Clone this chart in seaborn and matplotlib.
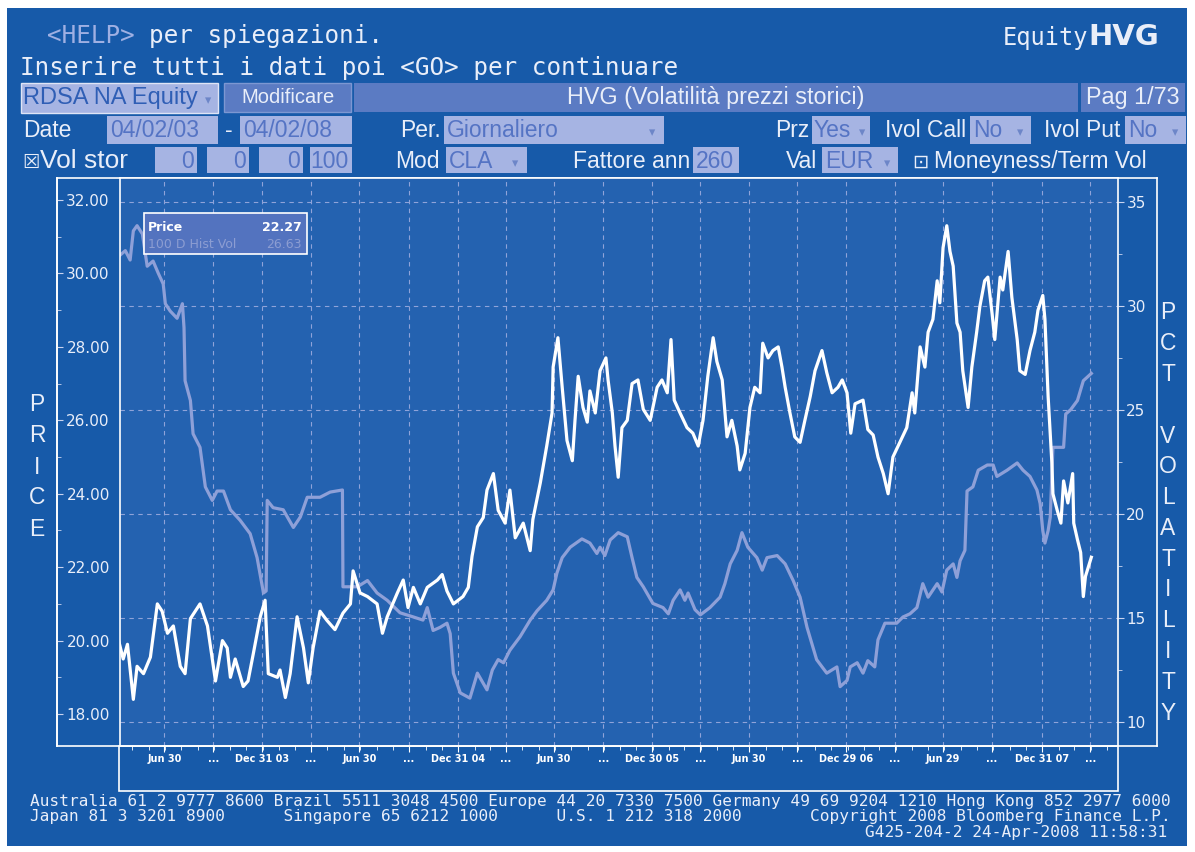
import pandas as pd
import matplotlib
matplotlib.use("Agg")
import matplotlib.pyplot as plt
import matplotlib.dates as mdates
from matplotlib.patches import Rectangle
from matplotlib.ticker import MultipleLocator, FuncFormatter
import seaborn as sns

# ---- data (days counted from the start date) ----
START = pd.Timestamp("2003-04-02")

price_days = [0, 12, 20, 31, 38, 50, 63, 76, 85, 95,
              106, 119, 128, 138, 156, 170, 185, 198, 207, 213,
              222, 237, 246, 256, 269, 278, 284, 301, 306, 316,
              325, 338, 350, 359, 368, 381, 394, 409, 424, 438,
              443, 456, 470, 488, 498, 507, 526, 537, 546, 556,
              569, 582, 601, 610, 619, 631, 649, 659, 666, 676,
              687, 694, 706, 715, 728, 737, 747, 762, 775, 780,
              794, 806, 816, 818, 827, 835, 844, 854, 859, 865,
              874, 882, 887, 897, 906, 917, 921, 929, 934, 940,
              947, 957, 966, 977, 987, 1000, 1013, 1022, 1032, 1039,
              1045, 1056, 1069, 1080, 1090, 1099, 1108, 1118, 1125, 1135,
              1144, 1153, 1163, 1168, 1178, 1187, 1196, 1206, 1211, 1221,
              1230, 1240, 1247, 1253, 1262, 1271, 1281, 1290, 1300, 1309,
              1322, 1331, 1341, 1352, 1360, 1369, 1376, 1384, 1399, 1408,
              1418, 1427, 1437, 1446, 1455, 1468, 1481, 1491, 1496, 1506,
              1515, 1521, 1530, 1538, 1543, 1549, 1556, 1562, 1568, 1575,
              1581, 1586, 1596, 1603, 1612, 1618, 1627, 1633, 1641, 1646,
              1656, 1661, 1671, 1678, 1688, 1693, 1703, 1712, 1721, 1727,
              1736, 1740, 1746, 1753, 1755, 1763, 1770, 1775, 1783, 1792,
              1794, 1801, 1807, 1812, 1816, 1827]
price_vals = [20.2, 19.5, 19.9, 18.4, 19.3, 19.1, 19.55, 21.0, 20.8, 20.2,
              20.4, 19.3, 19.1, 20.6, 21.0, 20.4, 18.9, 20.0, 19.8, 19.0,
              19.5, 18.75, 18.9, 19.65, 20.65, 21.1, 19.1, 19.0, 19.2, 18.45,
              19.1, 20.65, 19.8, 18.85, 19.8, 20.8, 20.55, 20.3, 20.75, 21.0,
              21.9, 21.3, 21.2, 21.0, 20.2, 20.65, 21.3, 21.65, 20.9, 21.45,
              21.0, 21.45, 21.65, 21.8, 21.35, 21.0, 21.2, 21.45, 22.3, 23.1,
              23.35, 24.1, 24.55, 23.55, 23.2, 24.1, 22.8, 23.2, 22.45, 23.3,
              24.3, 25.3, 26.2, 27.45, 28.25, 26.9, 25.45, 24.9, 26.0, 27.2,
              26.35, 25.95, 26.8, 26.2, 27.35, 27.7, 27.1, 26.2, 25.3, 24.45,
              25.8, 26.0, 27.0, 27.1, 26.3, 26.0, 26.9, 27.1, 26.75, 28.2,
              26.55, 26.2, 25.8, 25.65, 25.3, 26.0, 27.2, 28.25, 27.6, 27.1,
              25.55, 26.0, 25.3, 24.65, 25.1, 26.35, 26.9, 26.75, 28.1, 27.7,
              27.9, 28.0, 27.45, 26.9, 26.2, 25.55, 25.4, 26.0, 26.65, 27.35,
              27.9, 27.3, 26.75, 26.9, 27.1, 26.75, 25.65, 26.45, 26.55, 25.75,
              25.6, 25.0, 24.55, 24.0, 25.0, 25.4, 25.8, 26.75, 26.2, 28.0,
              27.45, 28.4, 28.75, 29.8, 29.2, 30.7, 31.3, 30.6, 30.2, 28.65,
              28.4, 27.35, 26.35, 27.45, 28.4, 29.1, 29.8, 29.9, 28.9, 28.2,
              29.9, 29.55, 30.6, 29.35, 28.2, 27.35, 27.25, 27.9, 28.4, 29.0,
              29.4, 28.75, 26.65, 24.85, 24.0, 23.55, 23.2, 24.35, 23.75, 24.55,
              23.2, 22.75, 22.4, 21.2, 21.75, 22.27]

vol_days = [0, 16, 25, 31, 38, 48, 57, 68, 78, 87,
            91, 100, 113, 123, 126, 128, 138, 143, 156, 166,
            179, 188, 200, 213, 231, 250, 263, 275, 280, 282,
            293, 312, 331, 344, 357, 381, 400, 423, 424, 451,
            470, 488, 507, 531, 556, 574, 582, 593, 606, 619,
            625, 631, 644, 662, 676, 694, 704, 715, 725, 737,
            756, 775, 788, 806, 818, 825, 835, 850, 872, 887,
            900, 906, 915, 925, 940, 957, 966, 975, 987, 1005,
            1024, 1034, 1043, 1056, 1065, 1071, 1084, 1094, 1112, 1131,
            1140, 1150, 1163, 1172, 1183, 1200, 1210, 1219, 1238, 1253,
            1268, 1281, 1294, 1312, 1331, 1350, 1356, 1369, 1375, 1388,
            1399, 1408, 1421, 1427, 1440, 1462, 1474, 1487, 1500, 1511,
            1521, 1538, 1547, 1556, 1568, 1575, 1581, 1590, 1594, 1605,
            1615, 1632, 1643, 1650, 1669, 1688, 1699, 1712, 1725, 1731,
            1736, 1740, 1746, 1750, 1755, 1775, 1779, 1788, 1801, 1812,
            1827]
vol_vals = [32.3, 32.65, 32.2, 33.6, 33.85, 33.45, 31.9, 32.15, 31.55, 31.05,
            30.1, 29.75, 29.4, 30.1, 28.95, 26.4, 25.45, 23.85, 23.2, 21.3,
            20.65, 21.1, 21.1, 20.2, 19.7, 19.05, 17.9, 16.2, 16.3, 20.65,
            20.3, 20.2, 19.35, 19.85, 20.8, 20.8, 21.05, 21.15, 16.5, 16.5,
            16.8, 16.2, 15.85, 15.25, 15.05, 14.9, 15.5, 14.4, 14.55, 14.75,
            14.25, 12.35, 11.4, 11.15, 12.35, 11.55, 12.5, 13.0, 12.85, 13.45,
            14.1, 14.9, 15.35, 15.85, 16.35, 17.15, 17.9, 18.4, 18.8, 18.6,
            18.1, 18.4, 18.0, 18.75, 19.1, 18.9, 17.9, 16.95, 16.5, 15.7,
            15.5, 15.2, 15.85, 16.35, 15.85, 16.2, 15.4, 15.15, 15.5, 16.0,
            16.65, 17.6, 18.25, 19.1, 18.4, 17.9, 17.3, 17.9, 18.0, 17.6,
            16.8, 16.0, 14.55, 13.0, 12.35, 12.65, 11.7, 12.0, 12.65, 12.85,
            12.35, 12.95, 12.65, 13.95, 14.75, 14.75, 15.05, 15.2, 15.5, 16.65,
            16.0, 16.65, 16.25, 17.3, 17.6, 16.95, 17.75, 18.25, 21.1, 21.3,
            22.1, 22.35, 22.35, 21.8, 22.1, 22.45, 22.1, 21.8, 21.15, 20.5,
            19.2, 18.6, 19.2, 19.85, 23.2, 23.2, 24.8, 25.0, 25.45, 26.4,
            26.75]

quarter_dates = ["2003-06-30", "2003-09-30", "2003-12-31", "2004-03-31",
                 "2004-06-30", "2004-09-30", "2004-12-31", "2005-03-31",
                 "2005-06-30", "2005-09-30", "2005-12-30", "2006-03-31",
                 "2006-06-30", "2006-09-29", "2006-12-29", "2007-03-30",
                 "2007-06-29", "2007-09-28", "2007-12-31", "2008-03-31"]
quarter_labels = ["Jun 30", "...", "Dec 31 03", "...", "Jun 30", "...",
                  "Dec 31 04", "...", "Jun 30", "...", "Dec 30 05", "...",
                  "Jun 30", "...", "Dec 29 06", "...", "Jun 29", "...",
                  "Dec 31 07", "..."]
price_ticks = [18, 20, 22, 24, 26, 28, 30, 32]
vol_ticks = [10, 15, 20, 25, 30, 35]

price_df = pd.DataFrame({"date": START + pd.to_timedelta(price_days, unit="D"),
                         "price": price_vals})
vol_df = pd.DataFrame({"date": START + pd.to_timedelta(vol_days, unit="D"),
                       "vol": vol_vals})

# ---- colours / fonts ----
W, H = 1195, 852
BG = "#175aa9"
PLOT_BG = "#2462b0"
LAV = "#a6b4e3"
BAR = "#5b7bc3"
BOXTXT = "#5574c4"
VOL_C = "#8ea0d8"
GRID_C = "#8fa3d9"
TXT_C = "#e9eef9"
MONO = "DejaVu Sans Mono"
SANS = "Liberation Sans"
SYM = "DejaVu Sans"

fig = plt.figure(figsize=(W / 100, H / 100), dpi=100)
fig.patch.set_facecolor("white")


def fx(px):
    return px / W


def fy(py):
    return 1 - py / H


def box(x0, y0, x1, y1, fc, ec="none", lw=1.0, z=1):
    fig.add_artist(Rectangle((fx(x0), fy(y1)), (x1 - x0) / W, (y1 - y0) / H,
                             transform=fig.transFigure, facecolor=fc,
                             edgecolor=ec, lw=lw, zorder=z))


def label(x, y, s, size=16.5, color=TXT_C, family=SANS, **kw):
    kw.setdefault("va", "baseline")
    fig.text(fx(x), fy(y), s, fontsize=size, color=color, family=family, **kw)


# screen background
box(7, 8, 1187, 846, BG, z=-10)

# ---- chart ----
ax_frame = fig.add_axes([fx(57), fy(746), (1157 - 57) / W, (746 - 178) / H])
ax_frame.set_facecolor("none")
ax_frame.set_xticks([])
ax_frame.set_yticks([])
for s in ax_frame.spines.values():
    s.set_color("white")
    s.set_linewidth(1.2)

ax = fig.add_axes([fx(120), fy(746), (1118 - 120) / W, (746 - 178) / H])
ax.set_facecolor(PLOT_BG)
axp = ax.twinx()

sns.lineplot(data=vol_df, x="date", y="vol", ax=ax, color=VOL_C,
             linewidth=2.3, estimator=None, sort=False)
sns.lineplot(data=price_df, x="date", y="price", ax=axp, color="white",
             linewidth=2.3, estimator=None, sort=False)

ax.set_xlim(pd.Timestamp("2003-04-08"), pd.Timestamp("2008-05-22"))
ax.set_ylim(8.85, 36.14)
axp.set_ylim(17.13, 32.6)
ax.set_xlabel("")
ax.set_ylabel("")
axp.set_ylabel("")

for s in ax.spines.values():
    s.set_color("white")
    s.set_linewidth(1.2)
for name in ["right", "top", "bottom"]:
    axp.spines[name].set_visible(False)
axp.spines["left"].set_position(("outward", 63 * 0.72))
axp.spines["left"].set_color("white")
axp.spines["left"].set_linewidth(1.2)

# right axis: volatility
ax.yaxis.tick_right()
ax.set_yticks(vol_ticks)
ax.yaxis.set_minor_locator(MultipleLocator(2.5))
ax.tick_params(axis="y", which="major", direction="out", length=4,
               color="#c9d3ef", labelsize=11, labelcolor=TXT_C, pad=2)
ax.tick_params(axis="y", which="minor", direction="out", length=3,
               color="#c9d3ef")

# left axis: price
axp.yaxis.tick_left()
axp.set_yticks(price_ticks)
axp.yaxis.set_major_formatter(FuncFormatter(lambda v, p: f"{v:.2f}"))
axp.yaxis.set_minor_locator(MultipleLocator(1))
axp.tick_params(axis="y", which="major", direction="in", length=4,
                color="#c9d3ef", labelsize=11, labelcolor=TXT_C, pad=-38)
axp.tick_params(axis="y", which="minor", direction="in", length=3,
                color="#c9d3ef")

# dates
ax.set_xticks(mdates.date2num(pd.to_datetime(quarter_dates)))
ax.set_xticklabels(quarter_labels)
ax.xaxis.set_minor_locator(mdates.MonthLocator())
ax.tick_params(axis="x", which="major", direction="out", length=4,
               color="white", labelsize=7, labelcolor="white", pad=2)
ax.tick_params(axis="x", which="minor", direction="out", length=3,
               color="white")
for t in ax.get_xticklabels():
    t.set_fontweight("bold")

ax.grid(True, axis="both", which="major", color=GRID_C, lw=0.8,
        linestyle=(0, (4, 4)))
ax.set_axisbelow(True)

# date strip box
box(119, 746, 1118, 791, "none", ec="white", lw=1.2, z=3)

# vertical axis titles
for i, ch in enumerate("PRICE"):
    label(37, 405 + 31 * i, ch, size=16.5, va="center", ha="center")
for i, ch in enumerate("PCT VOLATILITY"):
    label(1168, 313 + 30.77 * i, ch, size=16.5, va="center", ha="center")

# hover box
box(144, 213, 307, 254, "#5373bf", ec="white", lw=1.2, z=3)
label(148, 231, "Price", size=9, color="white", family=SYM, weight="bold")
label(302, 231, "22.27", size=9, color="white", family=SYM, weight="bold",
      ha="right")
label(148, 248, "100 D Hist Vol", size=9, color="#8c9dd2", family=SYM)
label(302, 248, "26.63", size=9, color="#8c9dd2", family=SYM, ha="right")

# ---- header ----
CW = 0.602 * 17.5 * 100 / 72
label(47, 43, "<HELP>", size=17.5, color="#9fb0e3", family=MONO)
label(47 + 7 * CW, 43, "per spiegazioni.", size=17.5, family=MONO)
label(20, 75, "Inserire tutti i dati poi <GO> per continuare", size=17.5,
      family=MONO)
label(1088, 45, "Equity", size=17, family=MONO, ha="right")
label(1088, 45, "HVG", size=21, family=SYM, weight="bold")

# row 1 of fields
box(21, 83, 218, 113, LAV, ec="#dfe5f6")
label(23, 104, "RDSA NA Equity", size=17, color="#2f5eb5")
label(208, 104, "▾", size=9, color="#6d86c8", family=SYM, ha="center")
box(224, 83, 351, 112, BAR, ec="#7c97d2")
label(288, 103, "Modificare", size=14.5, ha="center")
box(354, 83, 1078, 112, BAR)
label(716, 104, "HVG (Volatilità prezzi storici)", size=16.8, ha="center")
box(1081, 83, 1185, 112, BAR)
label(1133, 104, "Pag 1/73", size=16.8, ha="center")

# row 2
label(23, 137, "Date", size=16.5)
box(107, 116, 218, 144, LAV)
label(110, 137, "04/02/03", size=16.5, color=BOXTXT)
label(229, 137, "-", size=16.5, ha="center")
box(240, 116, 352, 144, LAV)
label(243, 137, "04/02/08", size=16.5, color=BOXTXT)
label(441, 137, "Per.", size=16.5, ha="right")
box(444, 116, 664, 144, LAV)
label(447, 137, "Giornaliero", size=16.5, color=BOXTXT)
label(652, 136, "▾", size=9, color="#6d86c8", family=SYM, ha="center")
label(809, 137, "Prz", size=16.5, ha="right")
box(812, 116, 870, 144, LAV)
label(814, 137, "Yes", size=16.5, color=BOXTXT)
label(862, 136, "▾", size=9, color="#6d86c8", family=SYM, ha="center")
label(885, 137, "Ivol Call", size=16.5)
box(970, 116, 1031, 144, LAV)
label(973, 137, "No", size=16.5, color=BOXTXT)
label(1020, 136, "▾", size=9, color="#6d86c8", family=SYM, ha="center")
label(1044, 137, "Ivol Put", size=16.5)
box(1125, 116, 1186, 144, LAV)
label(1128, 137, "No", size=16.5, color=BOXTXT)
label(1175, 136, "▾", size=9, color="#6d86c8", family=SYM, ha="center")

# row 3
label(31, 168, "☒", size=14, family=SYM, ha="center")
label(40, 168, "Vol stor", size=19)
for x0, x1, s in [(155, 197, "0"), (207, 249, "0"), (259, 303, "0"),
                  (310, 352, "100")]:
    box(x0, 147, x1, 173, LAV)
    label(x1 - 3, 168, s, size=16.5, color=BOXTXT, ha="right")
label(440, 168, "Mod", size=16.5, ha="right")
box(446, 147, 527, 173, LAV)
label(449, 168, "CLA", size=16.5, color=BOXTXT)
label(515, 167, "▾", size=9, color="#6d86c8", family=SYM, ha="center")
label(690, 168, "Fattore ann", size=16.5, ha="right")
box(693, 147, 739, 173, LAV)
label(696, 168, "260", size=16.5, color=BOXTXT)
label(817, 168, "Val", size=16.5, ha="right")
box(822, 147, 898, 173, LAV)
label(825, 168, "EUR", size=16.5, color=BOXTXT)
label(887, 167, "▾", size=9, color="#6d86c8", family=SYM, ha="center")
label(920, 168, "⊡", size=14, family=SYM, ha="center")
label(934, 168, "Moneyness/Term Vol", size=16.5)

# ---- footer ----
FS = 0.0 + 9.72 / 0.602 * 72 / 100
line1 = ("Australia 61 2 9777 8600 Brazil 5511 3048 4500 Europe 44 20 7330 7500 "
         "Germany 49 69 9204 1210 Hong Kong 852 2977 6000")
line2 = ("Japan 81 3 3201 8900" + " " * 6 + "Singapore 65 6212 1000" + " " * 6
         + "U.S. 1 212 318 2000" + " " * 7 + "Copyright 2008 Bloomberg Finance L.P.")
label(30, 806, line1, size=FS, family=MONO)
label(30, 821, line2, size=FS, family=MONO)
label(1167, 837, "G425-204-2 24-Apr-2008 11:58:31", size=FS, family=MONO,
      ha="right")

fig.savefig("out.png", dpi=100, facecolor=fig.get_facecolor())
